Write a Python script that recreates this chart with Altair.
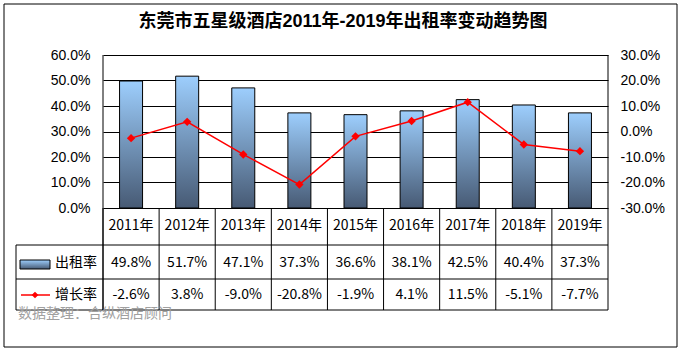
import altair as alt
import pandas as pd

years = ["2011年", "2012年", "2013年", "2014年", "2015年", "2016年", "2017年", "2018年", "2019年"]
rent_rate = [0.498, 0.517, 0.471, 0.373, 0.366, 0.381, 0.425, 0.404, 0.373]
growth = [-0.026, 0.038, -0.090, -0.208, -0.019, 0.041, 0.115, -0.051, -0.077]
left_ticks = [0.0, 0.1, 0.2, 0.3, 0.4, 0.5, 0.6]
right_ticks = [-0.3, -0.2, -0.1, 0.0, 0.1, 0.2, 0.3]

title_text = "东莞市五星级酒店2011年-2019年出租率变动趋势图"
series_rent = "出租率"
series_growth = "增长率"
source_text = "数据整理：合纵酒店顾问"

def pct(v):
    return f"{v * 100:.1f}%"

df = pd.DataFrame({
    "year": years,
    "rent": rent_rate,
    "growth": growth,
    "rent_label": [pct(v) for v in rent_rate],
    "growth_label": [pct(v) for v in growth],
})

W, H = 505, 153
SANS = "Liberation Sans, Arial, Noto Sans CJK SC"
CJK = "Noto Sans CJK SC, Liberation Sans"

grad = alt.Gradient(
    gradient="linear",
    stops=[alt.GradientStop(color="#9DCEFD", offset=0),
           alt.GradientStop(color="#475A74", offset=1)],
    x1=0, x2=0, y1=0, y2=1,
)

xscale = alt.Scale(domain=years, paddingInner=0, paddingOuter=0)
lbl = "replace(format(datum.value, '.1%'), '\u2212', '-')"

base = alt.Chart(df)

bars = base.mark_bar(size=23, color=grad, stroke="black", strokeWidth=1).encode(
    x=alt.X("year:N", scale=xscale, axis=None, sort=years),
    y=alt.Y("rent:Q", scale=alt.Scale(domain=[0, 0.6], nice=False),
            axis=alt.Axis(values=left_ticks, labelExpr=lbl, title=None, ticks=False,
                          domain=False, grid=True, gridColor="black", gridWidth=1,
                          labelPadding=13, labelFont="Liberation Sans", labelFontSize=14,
                          labelColor="black", orient="left")),
)

line = base.mark_line(
    color="#FF0000", strokeWidth=1.5,
    point=alt.OverlayMarkDef(shape="diamond", size=70, filled=True, color="#FF0000"),
).encode(
    x=alt.X("year:N", scale=xscale, axis=None, sort=years),
    y=alt.Y("growth:Q", scale=alt.Scale(domain=[-0.3, 0.3], nice=False),
            axis=alt.Axis(values=right_ticks, labelExpr=lbl, title=None, ticks=False,
                          domain=False, grid=False, labelPadding=12,
                          labelFont="Liberation Sans", labelFontSize=14,
                          labelColor="black", orient="right")),
)

one = alt.Data(values=[{"k": 0}])

def hrule(y, x1, x2, color="black", w=1):
    return alt.Chart(one).mark_rule(color=color, strokeWidth=w).encode(
        x=alt.value(x1), x2=alt.value(x2), y=alt.value(y))

def vrule(x, y1, y2, color="black", w=1):
    return alt.Chart(one).mark_rule(color=color, strokeWidth=w).encode(
        x=alt.value(x), y=alt.value(y1), y2=alt.value(y2))

col_sep = base.mark_rule(color="black", strokeWidth=1).encode(
    x=alt.X("year:N", scale=xscale, axis=None, sort=years, bandPosition=0),
    y=alt.value(H), y2=alt.value(255),
)

decor = [
    vrule(0, 0, 255), vrule(W, 0, 255), vrule(-87, 190, 255),
    hrule(190, -87, W), hrule(224, -87, W), hrule(255, -87, W),
]

header = base.mark_text(font=CJK, fontSize=14, color="black", baseline="middle").encode(
    x=alt.X("year:N", scale=xscale, axis=None, sort=years),
    y=alt.value(171), text="year:N")
row1 = base.mark_text(font=CJK, fontSize=14, color="black", baseline="middle").encode(
    x=alt.X("year:N", scale=xscale, axis=None, sort=years),
    y=alt.value(208), text="rent_label:N")
row2 = base.mark_text(font=CJK, fontSize=14, color="black", baseline="middle").encode(
    x=alt.X("year:N", scale=xscale, axis=None, sort=years),
    y=alt.value(240), text="growth_label:N")

swatch = alt.Chart(one).mark_rect(color=grad, stroke="black", strokeWidth=1).encode(
    x=alt.value(-83), x2=alt.value(-53), y=alt.value(205), y2=alt.value(214))
leg1 = alt.Chart(one).mark_text(font=CJK, fontSize=14, color="black", align="left", baseline="middle").encode(
    x=alt.value(-48), y=alt.value(208), text=alt.value(series_rent))
leg_line = hrule(240, -82, -53, color="#FF0000", w=1.5)
leg_pt = alt.Chart(one).mark_point(shape="diamond", size=45, filled=True, color="#FF0000", opacity=1).encode(
    x=alt.value(-68), y=alt.value(240))
leg2 = alt.Chart(one).mark_text(font=CJK, fontSize=14, color="black", align="left", baseline="middle").encode(
    x=alt.value(-48), y=alt.value(240), text=alt.value(series_growth))

source = alt.Chart(one).mark_text(font=CJK, fontSize=14, color="#A0A0A0", align="left", baseline="middle").encode(
    x=alt.value(-85), y=alt.value(259), text=alt.value(source_text))

title = alt.Chart(one).mark_text(font=SANS, fontSize=18, fontWeight="bold", color="black",
                                 align="center", baseline="middle").encode(
    x=alt.value(240), y=alt.value(-33), text=alt.value(title_text))

frame = alt.Chart(one).mark_rect(fillOpacity=0, stroke="black", strokeWidth=1).encode(
    x=alt.value(-99), x2=alt.value(574), y=alt.value(-51), y2=alt.value(292))

chart = alt.layer(
    bars, line, col_sep, *decor, header, row1, row2,
    swatch, leg1, leg_line, leg_pt, leg2, source, title, frame,
).resolve_scale(y="independent").properties(
    width=W, height=H,
    autosize=alt.AutoSizeParams(type="none"),
    padding={"left": 103, "top": 55, "right": 75, "bottom": 145},
    background="white",
).configure_view(stroke=None)

chart.save("out.html", embed_options={"renderer": "svg", "actions": False})
